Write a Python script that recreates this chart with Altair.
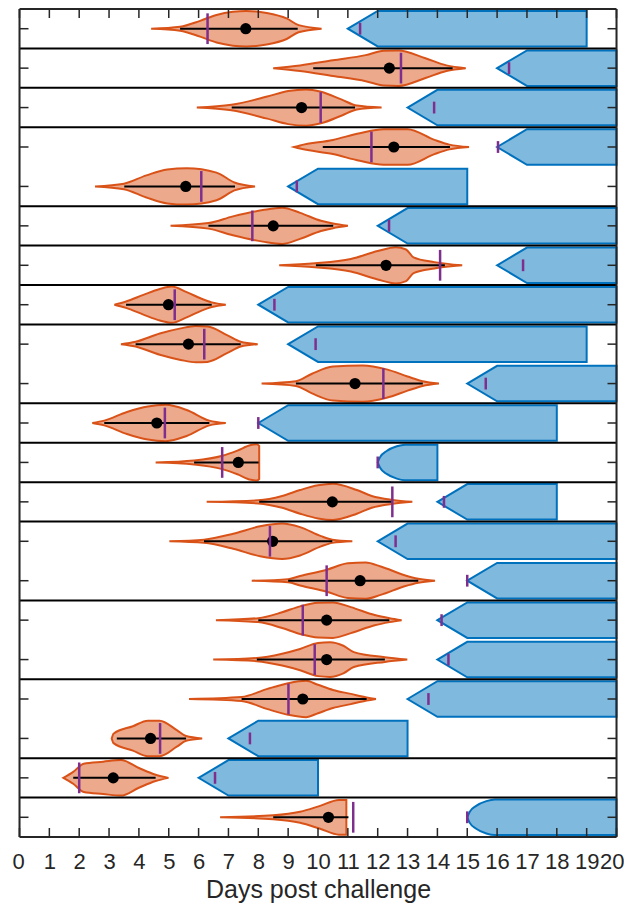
import altair as alt
import pandas as pd

rows = list(range(1, 22))

# violin profiles: x positions (days) and half-widths (in row units)
violin_x = [
    [4.41, 5.38, 6.05, 6.6, 7.15, 7.6, 8.28, 8.95, 9.35, 10.12],
    [8.5, 9.4, 10.5, 11.6, 12.2, 12.7, 13.6, 14.3, 14.95],
    [5.94, 7.1, 8.3, 9.0, 9.6, 10.1, 10.8, 11.3, 12.13],
    [9.2, 9.4, 10.5, 11.4, 12.2, 13.0, 13.9, 14.4, 15.06],
    [2.53, 3.5, 4.25, 4.95, 5.6, 6.6, 7.2, 7.89],
    [5.06, 6.33, 7.15, 8.15, 8.8, 9.4, 10.1, 10.5, 11.0],
    [8.7, 9.9, 11.1, 12.0, 12.6, 12.95, 13.2, 13.9, 14.83],
    [3.18, 3.57, 4.15, 4.7, 5.1, 5.6, 6.1, 6.44, 6.91],
    [3.4, 3.89, 4.7, 5.4, 5.9, 6.3, 6.95, 7.41, 7.98],
    [8.11, 9.26, 9.8, 10.5, 11.5, 12.3, 13.0, 13.5, 14.05],
    [2.44, 2.84, 3.6, 4.3, 4.9, 5.6, 6.36, 6.91],
    [4.56, 5.85, 6.8, 7.3, 7.75, 7.95, 8.03],
    [6.27, 8.0, 8.8, 9.4, 10.0, 10.5, 11.3, 11.8, 12.5, 13.16],
    [5.02, 6.18, 7.16, 8.06, 8.8, 9.4, 10.1, 10.48, 11.15],
    [7.78, 9.0, 9.4, 10.3, 11.0, 11.6, 12.1, 12.9, 13.36, 13.92],
    [6.58, 8.0, 8.8, 9.4, 10.0, 10.5, 11.1, 11.9, 12.4, 12.8],
    [6.49, 7.95, 8.8, 9.4, 10.0, 10.4, 10.85, 11.2, 12.24, 12.99],
    [5.68, 7.44, 8.28, 9.0, 9.6, 10.0, 10.5, 11.1, 11.63, 11.94],
    [3.09, 3.15, 3.8, 4.3, 4.7, 5.27, 5.58, 6.12],
    [1.47, 1.8, 2.15, 2.8, 3.4, 4.0, 4.56, 4.99],
    [6.72, 8.5, 9.4, 10.07, 10.7, 10.95],
]
violin_w = [
    [0, 0.05, 0.2, 0.35, 0.43, 0.45, 0.4, 0.26, 0.09, 0],
    [0, 0.07, 0.2, 0.33, 0.44, 0.45, 0.25, 0.07, 0],
    [0, 0.07, 0.28, 0.42, 0.46, 0.4, 0.2, 0.05, 0],
    [0, 0.04, 0.18, 0.35, 0.45, 0.45, 0.18, 0.06, 0],
    [0, 0.07, 0.28, 0.43, 0.46, 0.35, 0.1, 0],
    [0, 0.07, 0.24, 0.4, 0.46, 0.33, 0.13, 0.06, 0],
    [0, 0.05, 0.16, 0.36, 0.46, 0.4, 0.2, 0.08, 0],
    [0, 0.08, 0.25, 0.4, 0.46, 0.32, 0.15, 0.06, 0],
    [0, 0.06, 0.27, 0.4, 0.46, 0.45, 0.23, 0.06, 0],
    [0, 0.06, 0.25, 0.43, 0.46, 0.36, 0.18, 0.06, 0],
    [0, 0.06, 0.28, 0.42, 0.46, 0.33, 0.06, 0],
    [0, 0.05, 0.17, 0.3, 0.44, 0.46, 0.42],
    [0, 0.04, 0.15, 0.3, 0.42, 0.46, 0.3, 0.15, 0.05, 0],
    [0, 0.04, 0.19, 0.38, 0.45, 0.36, 0.13, 0.04, 0],
    [0, 0.04, 0.12, 0.28, 0.44, 0.46, 0.36, 0.14, 0.05, 0],
    [0, 0.05, 0.2, 0.35, 0.44, 0.45, 0.33, 0.13, 0.05, 0],
    [0, 0.04, 0.15, 0.27, 0.42, 0.44, 0.35, 0.19, 0.06, 0],
    [0, 0.05, 0.25, 0.4, 0.46, 0.36, 0.23, 0.13, 0.04, 0],
    [0, 0.12, 0.31, 0.45, 0.45, 0.21, 0.06, 0],
    [0, 0.15, 0.36, 0.41, 0.45, 0.25, 0.08, 0],
    [0, 0.05, 0.14, 0.29, 0.44, 0.44],
]

dot_x = [7.58, 12.39, 9.45, 12.54, 5.57, 8.50, 12.28, 4.99, 5.66, 11.24, 4.60,
         7.33, 10.48, 8.48, 11.41, 10.29, 10.29, 9.49, 4.39, 3.14, 10.35]
ci_lo = [5.38, 9.84, 7.11, 10.16, 3.51, 6.33, 9.93, 3.57, 3.89, 9.26, 2.84,
         5.85, 8.03, 6.18, 9.0, 8.0, 7.95, 7.44, 3.26, 1.8, 8.5]
ci_hi = [9.32, 14.51, 11.24, 14.42, 7.22, 10.51, 14.25, 6.44, 7.41, 13.51, 6.36,
         8.01, 12.5, 10.48, 13.36, 12.39, 12.24, 11.63, 5.58, 4.56, 11.02]
purple_long = [6.30, 12.78, 10.09, 11.79, 6.09, 7.80, 14.09, 5.20, 6.19, 12.19, 4.87,
               6.79, 12.49, 8.39, 10.29, 9.49, 9.89, 9.01, 4.71, 2.0, 11.18]
purple_small = [11.41, 16.4, 13.89, 16.03, 9.29, 12.38, 16.87, 8.54, 9.92, 15.62, 8.0,
                12.0, 14.22, 12.6, 15.0, 14.14, 14.37, 13.7, 7.72, 6.55, 15.0]

# arrow outlines: x positions and half-heights (row units)
arrow_x = [
    [11, 12, 19], [16, 17, 20], [13, 14, 20], [16, 17, 20], [9, 10, 15],
    [12, 13, 20], [16, 17, 20], [8, 9, 20], [9, 10, 19], [15, 16, 20],
    [8, 9, 18], [12, 12.08, 12.3, 12.64, 12.91, 14], [14, 15, 18],
    [12, 13, 20], [15, 16, 20], [14, 15, 20], [14, 15, 20], [13, 14, 20],
    [7, 8, 13], [6, 7, 10], [15, 15.08, 15.3, 15.64, 15.93, 20],
]
arrow_w = [
    [0, 0.45, 0.45], [0, 0.45, 0.45], [0, 0.45, 0.45], [0, 0.45, 0.45], [0, 0.45, 0.45],
    [0, 0.45, 0.45], [0, 0.45, 0.45], [0, 0.45, 0.45], [0, 0.45, 0.45], [0, 0.45, 0.45],
    [0, 0.45, 0.45], [0, 0.135, 0.29, 0.41, 0.45, 0.45], [0, 0.45, 0.45],
    [0, 0.45, 0.45], [0, 0.45, 0.45], [0, 0.45, 0.45], [0, 0.45, 0.45], [0, 0.45, 0.45],
    [0, 0.45, 0.45], [0, 0.45, 0.45], [0, 0.135, 0.29, 0.41, 0.45, 0.45],
]
arrow_rounded = [False] * 11 + [True] + [False] * 8 + [True]

group_breaks = [1.5, 2.5, 3.5, 5.5, 6.5, 7.5, 8.5, 10.5, 11.5, 12.5, 13.5, 15.5, 17.5, 19.5, 20.5]
x_ticks = list(range(0, 21))

W, H = 597, 828
FONT = "Liberation Sans"
ORANGE = "#D95319"
ORANGE_FILL = "#EDA98C"
BLUE = "#0072BD"
BLUE_FILL = "#80B9DE"
PURPLE = "#7E2F8E"
DARK = "#262626"

row_px = H / 21.0
day_px = W / 20.0
tick_len = 9

# ---- build tables ----
vrec = []
for r, xs, ws in zip(rows, violin_x, violin_w):
    for x, w in zip(xs, ws):
        vrec.append({"row": r, "x": x, "lo": r - w, "hi": r + w})
vdf = pd.DataFrame(vrec)

arec_lin, arec_round = [], []
for r, xs, ws, rd in zip(rows, arrow_x, arrow_w, arrow_rounded):
    for x, w in zip(xs, ws):
        (arec_round if rd else arec_lin).append({"row": r, "x": x, "lo": r - w, "hi": r + w})
adf_lin = pd.DataFrame(arec_lin)
adf_round = pd.DataFrame(arec_round)

pdf = pd.DataFrame({
    "row": rows, "dot": dot_x, "lo": ci_lo, "hi": ci_hi,
    "pl": purple_long, "ps": purple_small,
})
pdf["pl_top"] = pdf["row"] - 0.39
pdf["pl_bot"] = pdf["row"] + 0.39
pdf["ps_top"] = pdf["row"] - 0.15
pdf["ps_bot"] = pdf["row"] + 0.15

sep_df = pd.DataFrame({"y": group_breaks})
frame_h = pd.DataFrame({"y": [0.5, 21.5]})
frame_v = pd.DataFrame({"x": [0, 20]})

xt = pd.DataFrame({"x": x_ticks})
xt["b0"] = 21.5
xt["b1"] = 21.5 - tick_len / row_px
xt["t0"] = 0.5
xt["t1"] = 0.5 + tick_len / row_px
yt = pd.DataFrame({"row": rows})
yt["l0"] = 0
yt["l1"] = tick_len / day_px
yt["r0"] = 20
yt["r1"] = 20 - tick_len / day_px

xscale = alt.Scale(domain=[0, 20], nice=False, zero=False)
yscale = alt.Scale(domain=[0.5, 21.5], reverse=True, nice=False, zero=False)
xaxis = alt.Axis(values=x_ticks, ticks=False, domain=False, grid=False, format="d",
                 labelFontSize=22, labelFont=FONT, labelColor=DARK, labelPadding=14,
                 labelFlush=True, labelFlushOffset=7.5, labelOverlap=False,
                 title="Days post challenge", titleFontSize=25, titleFont=FONT,
                 titleColor=DARK, titleFontWeight="normal", titlePadding=5)


def X(f):
    return alt.X(f, type="quantitative", scale=xscale, axis=xaxis)


def Y(f):
    return alt.Y(f, type="quantitative", scale=yscale, axis=None)


arrows_lin = alt.Chart(adf_lin).mark_area(
    fill=BLUE_FILL, stroke=BLUE, strokeWidth=2, interpolate="linear", strokeJoin="miter"
).encode(x=X("x"), y=Y("lo"), y2="hi:Q", detail="row:N")

arrows_round = alt.Chart(adf_round).mark_area(
    fill=BLUE_FILL, stroke=BLUE, strokeWidth=2, interpolate="monotone"
).encode(x=X("x"), y=Y("lo"), y2="hi:Q", detail="row:N")

violins = alt.Chart(vdf).mark_area(
    fill=ORANGE_FILL, stroke=ORANGE, strokeWidth=2, interpolate="monotone"
).encode(x=X("x"), y=Y("lo"), y2="hi:Q", detail="row:N")

ci = alt.Chart(pdf).mark_rule(color="black", strokeWidth=2).encode(
    x=X("lo"), x2="hi:Q", y=Y("row"))

dots = alt.Chart(pdf).mark_circle(color="black", opacity=1, size=125).encode(
    x=X("dot"), y=Y("row"))

plong = alt.Chart(pdf).mark_rule(color=PURPLE, strokeWidth=2.5).encode(
    x=X("pl"), y=Y("pl_top"), y2="pl_bot:Q")

psmall = alt.Chart(pdf).mark_rule(color=PURPLE, strokeWidth=2.5).encode(
    x=X("ps"), y=Y("ps_top"), y2="ps_bot:Q")

seps = alt.Chart(sep_df).mark_rule(color="black", strokeWidth=2).encode(y=Y("y"))
fh = alt.Chart(frame_h).mark_rule(color=DARK, strokeWidth=2).encode(y=Y("y"))
fv = alt.Chart(frame_v).mark_rule(color=DARK, strokeWidth=2).encode(x=X("x"))

xt_b = alt.Chart(xt).mark_rule(color=DARK, strokeWidth=1.5).encode(x=X("x"), y=Y("b0"), y2="b1:Q")
xt_t = alt.Chart(xt).mark_rule(color=DARK, strokeWidth=1.5).encode(x=X("x"), y=Y("t0"), y2="t1:Q")
yt_l = alt.Chart(yt).mark_rule(color=DARK, strokeWidth=1.5).encode(x=X("l0"), x2="l1:Q", y=Y("row"))
yt_r = alt.Chart(yt).mark_rule(color=DARK, strokeWidth=1.5).encode(x=X("r0"), x2="r1:Q", y=Y("row"))

chart = alt.layer(
    arrows_lin, arrows_round, violins, ci, dots, plong, psmall,
    seps, fh, fv, xt_b, xt_t, yt_l, yt_r
).properties(
    width=W, height=H,
    autosize=alt.AutoSizeParams(type="none"),
    padding={"left": 11.5, "top": 1, "right": 7.5, "bottom": 67},
).configure_view(stroke=None).configure(background="white")

chart.save("out.html", embed_options={"renderer": "svg", "actions": False})
